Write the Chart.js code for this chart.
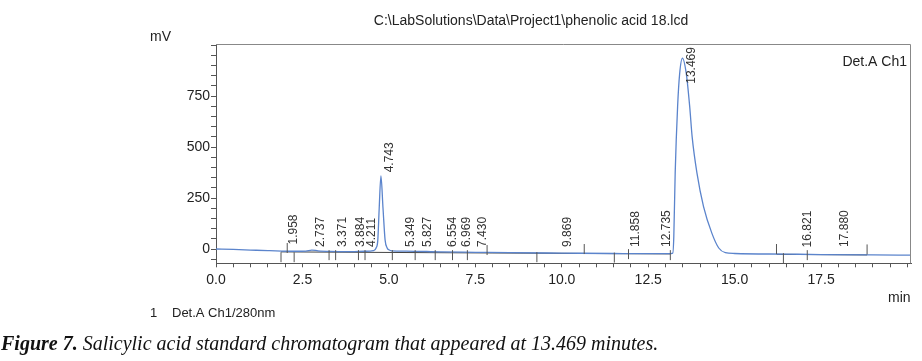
<!DOCTYPE html>
<html>
<head>
<meta charset="utf-8">
<title>Salicylic acid standard chromatogram</title>
<script src="https://cdn.jsdelivr.net/npm/chart.js@4.4.1/dist/chart.umd.min.js"></script>
<style>
  html, body { margin: 0; padding: 0; background: #fff; }
  #wrap { position: relative; width: 922px; height: 361px; }
  #chart { position: absolute; left: 0; top: 0; }
  #caption {
    position: absolute; left: 1px; top: 332px; white-space: nowrap;
    font-family: 'Liberation Serif', 'Times New Roman', serif;
    font-style: italic; font-size: 20px; color: #111;
  }
  #caption b { font-weight: bold; }
</style>
</head>
<body>
<div id="wrap">
  <canvas id="chart" width="922" height="361"></canvas>
  <div id="caption"><b>Figure 7.</b> Salicylic acid standard chromatogram that appeared at 13.469 minutes.</div>
</div>
<script>
/* ---- Data ---- */
const traceTime = [0, 0.5, 1.0, 1.5, 1.9, 2.3, 2.6, 2.77, 2.95, 3.3, 3.9, 4.3, 4.55, 4.63, 4.68, 4.72, 4.77, 4.83, 4.89, 4.95, 5.0, 5.08,
  5.5, 6.5, 7.5, 8.5, 10.0, 11.5, 12.5, 13.1, 13.21, 13.24, 13.28, 13.35, 13.41, 13.49, 13.6, 13.7, 13.77, 13.91, 14.1, 14.34, 14.54, 14.73,
  15.0, 16.5, 17.5, 19.0, 20.1];
const traceMv = [0, -2, -5, -8, -10, -11, -10, -5, -9, -12, -13, -11, -8, 5, 45, 200, 358, 200, 45, 5, -4, -9,
  -10, -14, -16, -18, -20, -22, -23, -23, -20, 60, 372, 698, 861, 936, 861, 698, 551, 372, 208, 78, 5, -18,
  -22, -25, -27, -29, -30];

// integration baseline drawn by the software
const baseTime = [1.88, 13.14, 13.2, 16.21, 18.83];
const baseMv = [-14, -24, null, -26, -29];

// peak start / end markers
const markerTime = [1.88, 2.06, 2.26, 3.27, 3.46, 4.12, 4.31, 5.1, 5.76, 6.34, 6.84, 7.27, 7.84, 9.28, 10.65, 11.52, 11.93, 13.14, 16.21, 16.41, 17.1, 18.83];
const markerMv = [-40, 5, -40, -30, -30, -30, -30, -30, -30, -30, -30, -30, -5, -40, 0, -42, -25, -30, 0, -45, -30, -2];

// retention time labels
const peakLabels = ['1.958', '2.737', '3.371', '3.884', '4.211', '4.743', '5.349', '5.827', '6.554', '6.969', '7.430', '9.869', '11.858', '12.735', '13.469', '16.821', '17.880'];
const peakTimes = [1.958, 2.737, 3.371, 3.884, 4.211, 4.743, 5.349, 5.827, 6.554, 6.969, 7.430, 9.869, 11.858, 12.735, 13.469, 16.821, 17.880];
const labelMv = [22, 10, 10, 10, 10, 376, 10, 10, 10, 10, 10, 10, 10, 10, 810, 8, 10];

const yMajor = 250;
const xMajor = 2.5;
const xLastLabel = 17.5;

const FONT = "'Liberation Sans', Arial, sans-serif";
const INK = '#222';
const AXIS = '#555';

/* ---- Extra drawing: frame, titles, peak labels ---- */
const decorPlugin = {
  id: 'decor',
  afterDatasetsDraw(chart) {
    const ctx = chart.ctx;
    const { left, right, top, bottom } = chart.chartArea;
    const xs = chart.scales.x, ys = chart.scales.y;

    ctx.save();
    // top and right frame
    ctx.strokeStyle = '#888';
    ctx.lineWidth = 1;
    ctx.beginPath();
    ctx.moveTo(left, top + 0.5);
    ctx.lineTo(right - 0.5, top + 0.5);
    ctx.lineTo(right - 0.5, bottom);
    ctx.stroke();

    ctx.fillStyle = INK;
    ctx.font = `14px ${FONT}`;
    ctx.textBaseline = 'middle';
    ctx.textAlign = 'center';
    ctx.fillText('C:\\LabSolutions\\Data\\Project1\\phenolic acid 18.lcd', 531, 21);
    ctx.textAlign = 'left';
    ctx.fillText('mV', 150, 37);
    ctx.fillText('min', 888, 298);
    ctx.textAlign = 'right';
    ctx.fillText('Det.A Ch1', 907, 62);
    ctx.textAlign = 'left';
    ctx.font = `13px ${FONT}`;
    ctx.fillText('1', 150, 313);
    ctx.fillText('Det.A Ch1/280nm', 172, 313);

    // rotated retention times
    ctx.font = `12px ${FONT}`;
    ctx.fillStyle = '#333';
    peakLabels.forEach((txt, i) => {
      const px = xs.getPixelForValue(peakTimes[i]) + 10;
      const py = ys.getPixelForValue(labelMv[i]);
      ctx.save();
      ctx.translate(px, py);
      ctx.rotate(-Math.PI / 2);
      ctx.textAlign = 'left';
      ctx.textBaseline = 'middle';
      ctx.fillText(txt, 0, 0);
      ctx.restore();
    });
    ctx.restore();
  }
};

const tickFont = { family: FONT, size: 14 };

new Chart(document.getElementById('chart'), {
  type: 'line',
  data: {
    datasets: [
      {
        label: 'Det.A Ch1',
        data: traceTime.map((t, i) => ({ x: t, y: traceMv[i] })),
        borderColor: '#5b84cc',
        borderWidth: 1.3,
        pointRadius: 0,
        cubicInterpolationMode: 'monotone',
        order: 1,
      },
      {
        label: 'baseline',
        data: baseTime.map((t, i) => ({ x: t, y: baseMv[i] })),
        borderColor: '#444',
        borderWidth: 1,
        pointRadius: 0,
        order: 2,
      },
      {
        type: 'scatter',
        label: 'markers',
        data: markerTime.map((t, i) => ({ x: t, y: markerMv[i] })),
        pointStyle: 'line',
        rotation: 90,
        pointRadius: 5,
        borderColor: '#555',
        borderWidth: 1,
        order: 0,
      },
    ],
  },
  options: {
    responsive: false,
    animation: false,
    events: [],
    layout: { padding: { top: 44, right: 11, left: 0, bottom: 0 } },
    plugins: {
      legend: { display: false },
      tooltip: { enabled: false },
    },
    scales: {
      x: {
        type: 'linear',
        min: 0,
        max: 20.1,
        afterFit: s => { s.height = 97.7; },
        border: { color: AXIS, width: 1 },
        grid: { drawOnChartArea: false, color: AXIS, tickLength: 4 },
        ticks: {
          stepSize: 0.5,
          autoSkip: false,
          includeBounds: false,
          maxRotation: 0,
          padding: 4,
          color: INK,
          font: tickFont,
          callback: v => (Math.abs(v / xMajor - Math.round(v / xMajor)) < 1e-6 && v <= xLastLabel ? v.toFixed(1) : ''),
        },
      },
      y: {
        type: 'linear',
        min: -70,
        max: 1005,
        afterFit: s => { s.width = 216; },
        border: { color: AXIS, width: 1 },
        grid: { drawOnChartArea: false, color: AXIS, tickLength: 5 },
        ticks: {
          stepSize: 50,
          autoSkip: false,
          includeBounds: false,
          padding: 1,
          color: INK,
          font: tickFont,
          callback: v => (v % yMajor === 0 && v <= 750 ? String(v) : ''),
        },
      },
    },
  },
  plugins: [decorPlugin],
});
</script>
</body>
</html>
